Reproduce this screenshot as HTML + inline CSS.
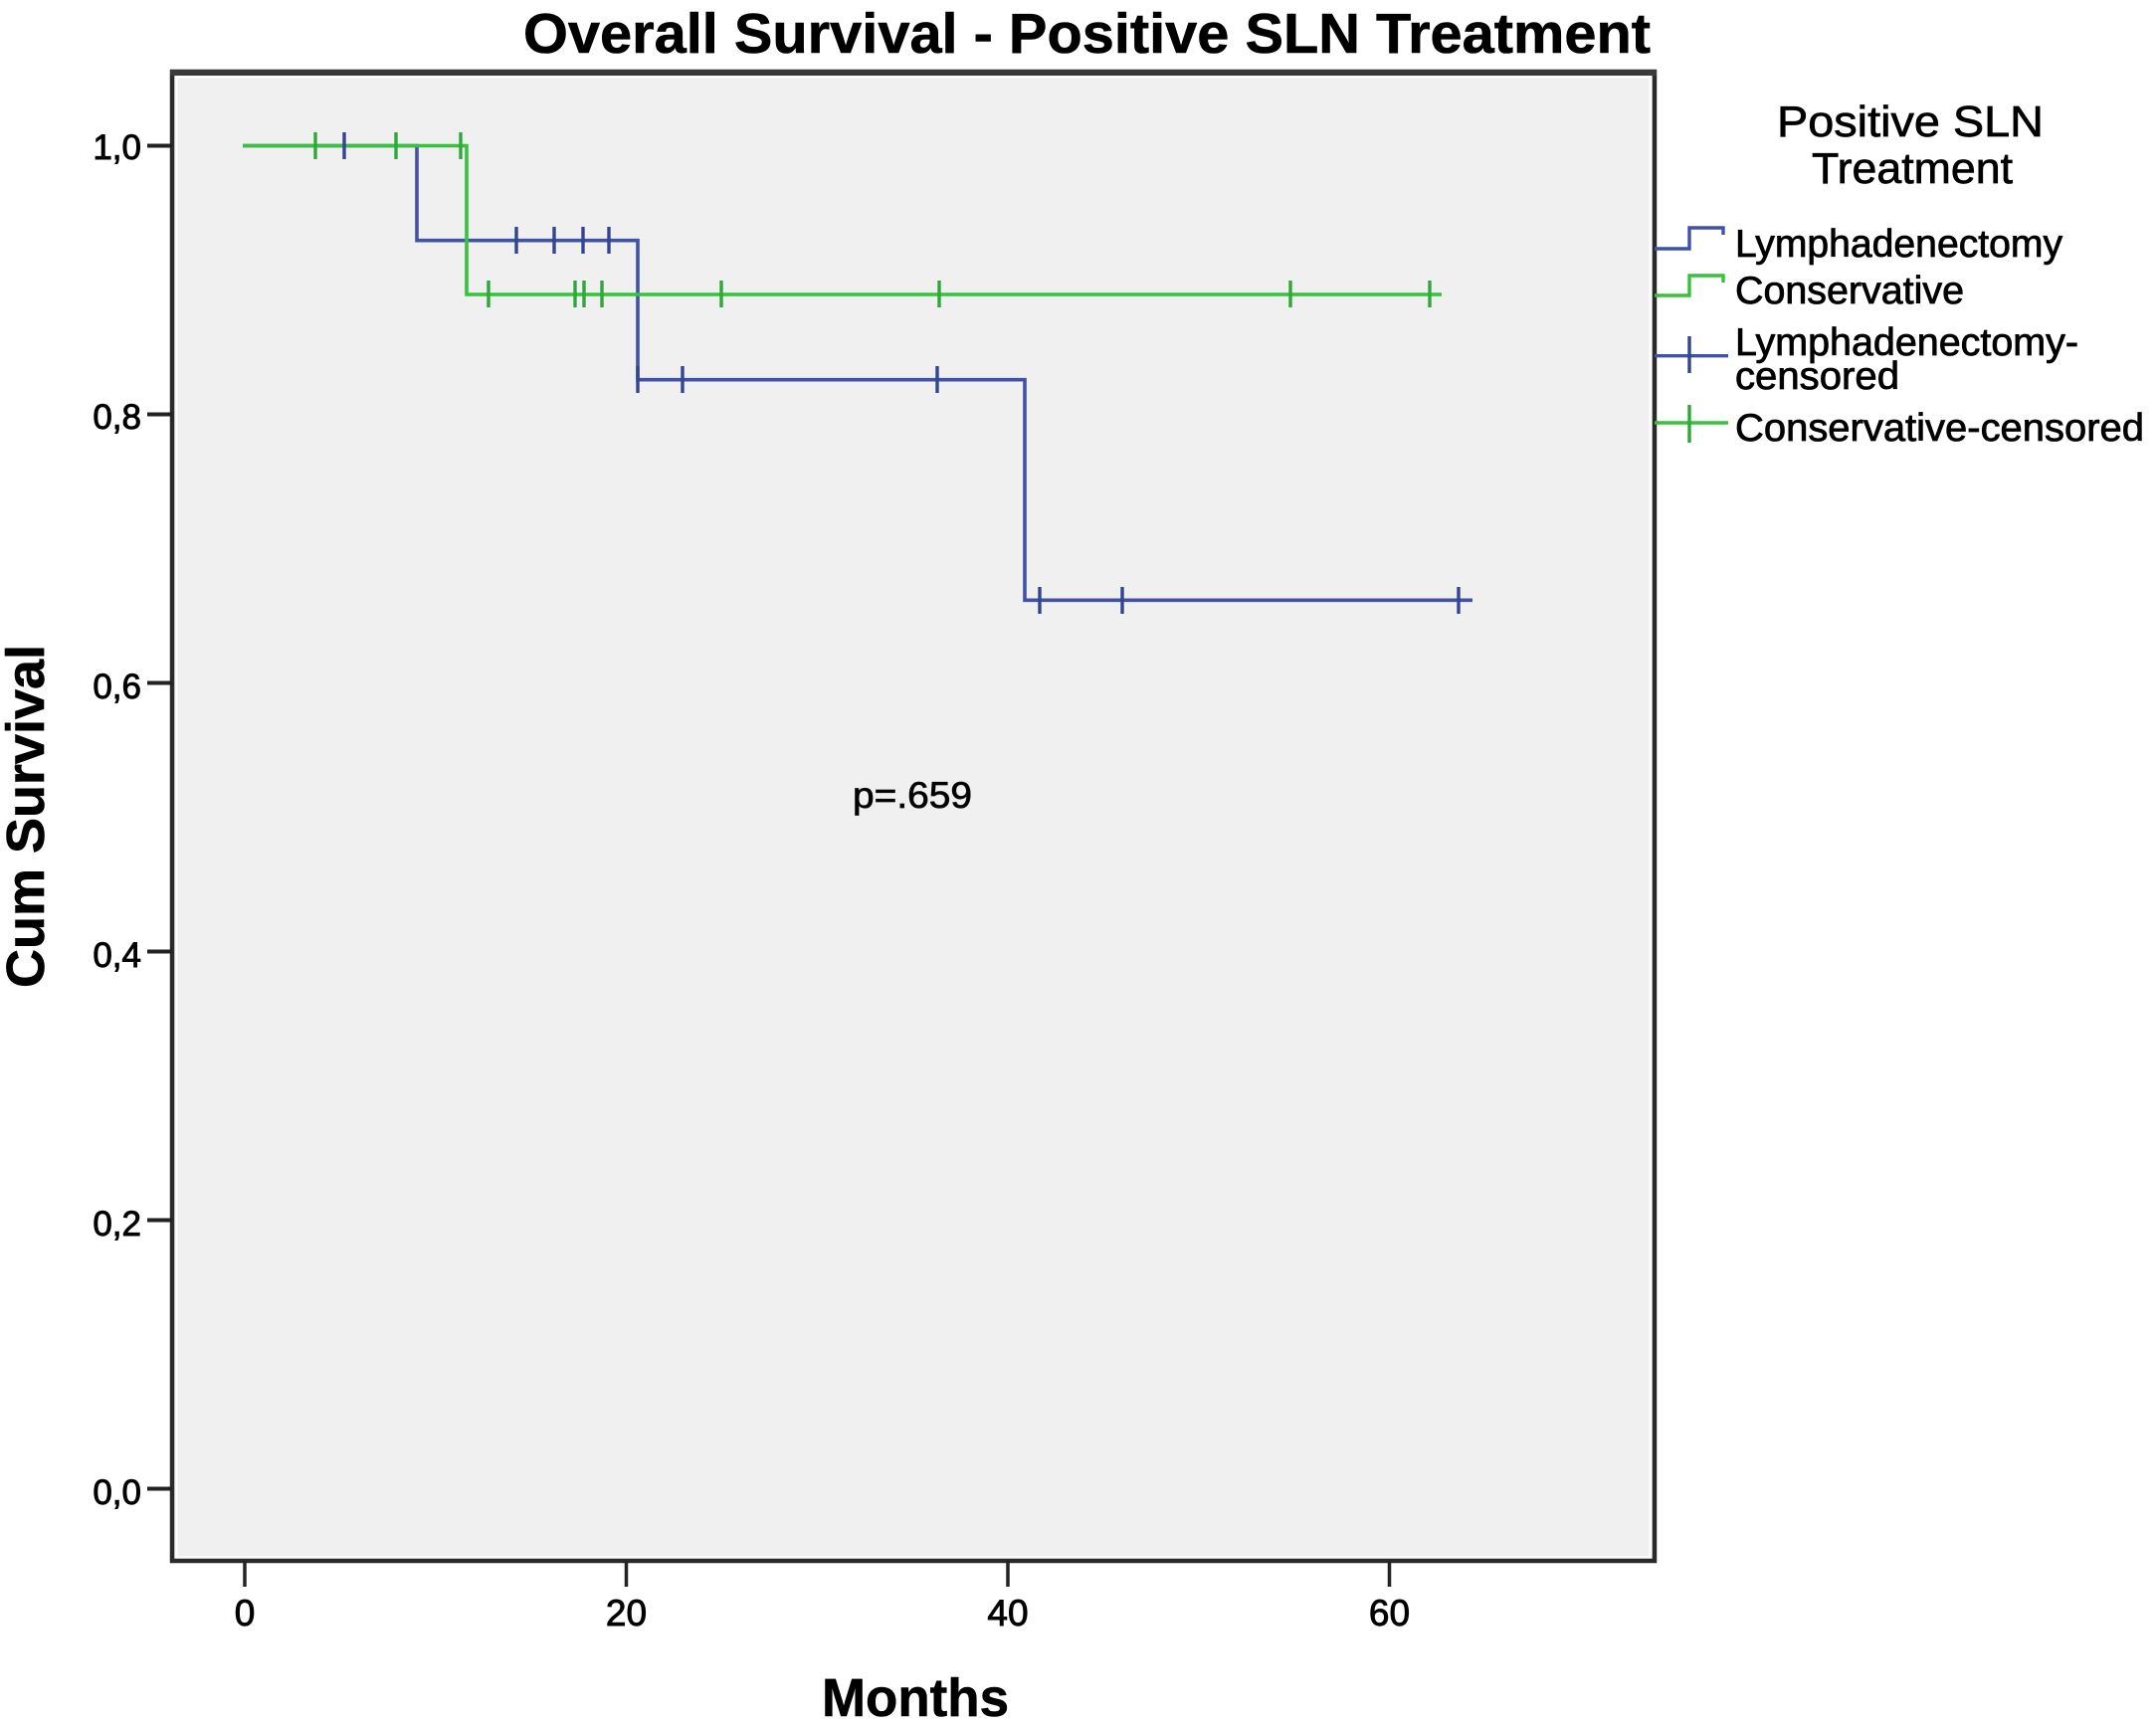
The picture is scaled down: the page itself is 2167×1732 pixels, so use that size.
<!DOCTYPE html>
<html>
<head>
<meta charset="utf-8">
<style>
  html, body { margin: 0; padding: 0; background: #ffffff; }
  svg { display: block; }
  text { font-family: "Liberation Sans", Arial, sans-serif; fill: #000; }
</style>
</head>
<body>
<svg width="2167" height="1732" viewBox="0 0 2167 1732" xmlns="http://www.w3.org/2000/svg">
  <rect x="0" y="0" width="2167" height="1732" fill="#ffffff"/>

  <!-- Title -->
  <text x="526" y="53" font-size="57" font-weight="bold" textLength="1133" lengthAdjust="spacingAndGlyphs" stroke="#000" stroke-width="0.6">Overall Survival - Positive SLN Treatment</text>

  <!-- Plot area -->
  <rect x="173" y="72" width="1490" height="1497" fill="#f0f0f0" stroke="#2a2a2a" stroke-width="4.5"/>
  <line x1="171" y1="73" x2="1665" y2="73" stroke="#3a3a3a" stroke-width="6"/>
  <rect x="177.5" y="77.5" width="1481" height="1488" fill="none" stroke="#ffffff" stroke-width="2"/>

  <!-- Y ticks -->
  <g stroke="#222" stroke-width="4">
    <line x1="148" y1="146.5" x2="173" y2="146.5"/>
    <line x1="148" y1="416.5" x2="173" y2="416.5"/>
    <line x1="148" y1="686.5" x2="173" y2="686.5"/>
    <line x1="148" y1="956.5" x2="173" y2="956.5"/>
    <line x1="148" y1="1226.5" x2="173" y2="1226.5"/>
    <line x1="148" y1="1496.5" x2="173" y2="1496.5"/>
  </g>
  <g font-size="35" text-anchor="end" stroke="#000" stroke-width="0.9">
    <text x="142" y="160">1,0</text>
    <text x="142" y="431">0,8</text>
    <text x="142" y="702">0,6</text>
    <text x="142" y="972">0,4</text>
    <text x="142" y="1242">0,2</text>
    <text x="142" y="1512">0,0</text>
  </g>

  <!-- X ticks -->
  <g stroke="#222" stroke-width="3.5">
    <line x1="246" y1="1569" x2="246" y2="1595"/>
    <line x1="629.5" y1="1569" x2="629.5" y2="1595"/>
    <line x1="1013" y1="1569" x2="1013" y2="1595"/>
    <line x1="1396.5" y1="1569" x2="1396.5" y2="1595"/>
  </g>
  <g font-size="37" text-anchor="middle" stroke="#000" stroke-width="0.9">
    <text x="246" y="1634">0</text>
    <text x="629.5" y="1634">20</text>
    <text x="1013" y="1634">40</text>
    <text x="1396.5" y="1634">60</text>
  </g>

  <!-- Axis labels -->
  <text x="826" y="1725" font-size="54" font-weight="bold" textLength="188" lengthAdjust="spacingAndGlyphs" stroke="#000" stroke-width="0.6">Months</text>
  <text transform="translate(44,993) rotate(-90)" x="0" y="0" font-size="54" font-weight="bold" textLength="345" lengthAdjust="spacingAndGlyphs" stroke="#000" stroke-width="0.6">Cum Survival</text>

  <!-- Curves -->
  <path d="M244,146.5 H419 V241.7 H641 V381.7 H1030 V603.3 H1480" fill="none" stroke="#3f51a8" stroke-width="3.6"/>
  <path d="M244,146.5 H469 V296 H1449" fill="none" stroke="#36c23c" stroke-width="3.6"/>

  <!-- Censor marks: blue -->
  <g stroke="#34458f" stroke-width="3.4">
    <line x1="346" y1="133" x2="346" y2="160"/>
    <line x1="519" y1="228" x2="519" y2="255"/>
    <line x1="557" y1="228" x2="557" y2="255"/>
    <line x1="586" y1="228" x2="586" y2="255"/>
    <line x1="612" y1="228" x2="612" y2="255"/>
    <line x1="641" y1="368" x2="641" y2="395"/>
    <line x1="686" y1="368" x2="686" y2="395"/>
    <line x1="942" y1="368" x2="942" y2="395"/>
    <line x1="1045" y1="590" x2="1045" y2="617"/>
    <line x1="1128" y1="590" x2="1128" y2="617"/>
    <line x1="1466" y1="590" x2="1466" y2="617"/>
  </g>
  <!-- Censor marks: green -->
  <g stroke="#2fa83a" stroke-width="3.4">
    <line x1="317" y1="133" x2="317" y2="160"/>
    <line x1="398" y1="133" x2="398" y2="160"/>
    <line x1="463" y1="133" x2="463" y2="160"/>
    <line x1="491" y1="282" x2="491" y2="309"/>
    <line x1="578" y1="282" x2="578" y2="309"/>
    <line x1="587" y1="282" x2="587" y2="309"/>
    <line x1="605" y1="282" x2="605" y2="309"/>
    <line x1="725" y1="282" x2="725" y2="309"/>
    <line x1="944" y1="282" x2="944" y2="309"/>
    <line x1="1297" y1="282" x2="1297" y2="309"/>
    <line x1="1437" y1="282" x2="1437" y2="309"/>
  </g>

  <!-- p-value -->
  <text x="857" y="812" font-size="37" fill="#111" stroke="#111" stroke-width="0.8" textLength="120" lengthAdjust="spacingAndGlyphs">p=.659</text>

  <!-- Legend -->
  <g stroke="#000" stroke-width="0.7">
    <text x="1920" y="137" font-size="44" text-anchor="middle" textLength="268" lengthAdjust="spacingAndGlyphs">Positive SLN</text>
    <text x="1922" y="184" font-size="44" text-anchor="middle" textLength="202" lengthAdjust="spacingAndGlyphs">Treatment</text>
  </g>

  <path d="M1663,250 H1698 V229 H1732 V236" fill="none" stroke="#3f51a8" stroke-width="3.4"/>
  <path d="M1663,297 H1698 V277 H1732 V284" fill="none" stroke="#36c23c" stroke-width="3.4"/>
  <line x1="1663" y1="357.7" x2="1737" y2="357.7" stroke="#3f51a8" stroke-width="3.4"/>
  <line x1="1698" y1="338" x2="1698" y2="375" stroke="#34458f" stroke-width="3.4"/>
  <line x1="1663" y1="425" x2="1737" y2="425" stroke="#36c23c" stroke-width="3.4"/>
  <line x1="1698" y1="407" x2="1698" y2="445" stroke="#2fa83a" stroke-width="3.4"/>

  <g font-size="39" stroke="#000" stroke-width="0.8">
    <text x="1744" y="258" textLength="329" lengthAdjust="spacingAndGlyphs">Lymphadenectomy</text>
    <text x="1744" y="305" textLength="230" lengthAdjust="spacingAndGlyphs">Conservative</text>
    <text x="1744" y="357" textLength="345" lengthAdjust="spacingAndGlyphs">Lymphadenectomy-</text>
    <text x="1744" y="391" textLength="165" lengthAdjust="spacingAndGlyphs">censored</text>
    <text x="1744" y="443" textLength="411" lengthAdjust="spacingAndGlyphs">Conservative-censored</text>
  </g>
</svg>
</body>
</html>
